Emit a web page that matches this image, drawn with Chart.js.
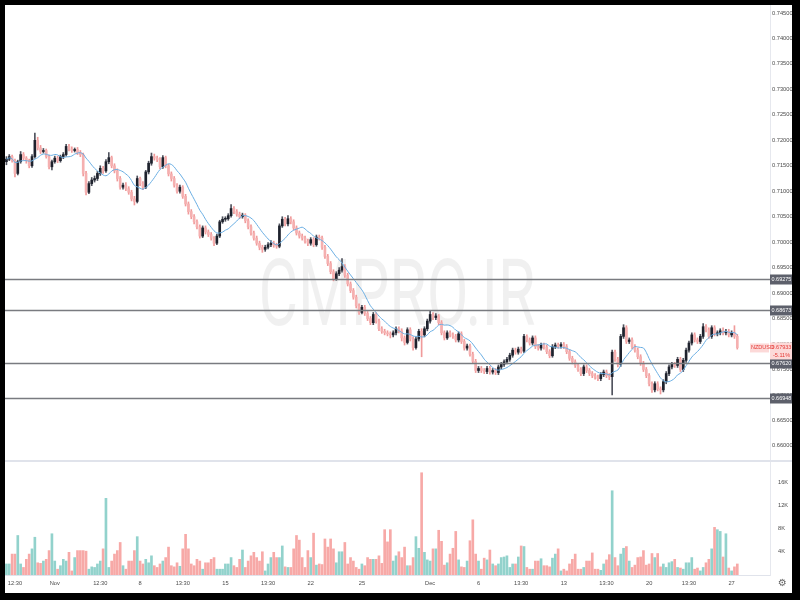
<!DOCTYPE html>
<html lang="en">
<head>
  <meta charset="UTF-8" />
  <title>NZDUSD - 4H</title>
  <script src="https://cdn.jsdelivr.net/npm/chart.js"></script>
  <style>
    body {
      margin: 0;
      background: #000;
      width: 800px;
      height: 600px;
      overflow: hidden;
      font-family: Arial, "Liberation Sans", sans-serif;
    }
    .frame { position: absolute; left: 5px; top: 5px; width: 787px; height: 588px; background: #fff; }
    .pane { position: absolute; left: 5px; }
    .sep { position: absolute; left: 5px; top: 460px; width: 787px; height: 2px; background: #e0e3eb; }
    .gear { position: absolute; left: 778px; top: 577px; font-size: 10px; color: #666; font-family: "DejaVu Sans", sans-serif; }
  </style>
</head>
<body>
  <div class="frame"></div>
  <canvas id="priceChart" class="pane" style="top:5px" width="787" height="455"></canvas>
  <div class="sep"></div>
  <canvas id="volChart" class="pane" style="top:462px" width="787" height="131"></canvas>
  <div class="gear">⚙</div>

  <script>
    // 4H candles, 29 Oct .. 27 Dec
    const opens = [
      0.7158,0.7163,0.7168,0.7160,0.7135,0.7158,0.7172,0.7165,0.7160,0.7150,
      0.7168,0.7200,0.7185,0.7178,0.7180,0.7168,0.7148,0.7158,0.7165,0.7160,
      0.7168,0.7172,0.7188,0.7183,0.7180,0.7182,0.7176,0.7172,0.7135,0.7098,
      0.7115,0.7122,0.7125,0.7135,0.7145,0.7140,0.7158,0.7166,0.7150,0.7140,
      0.7125,0.7108,0.7112,0.7105,0.7098,0.7085,0.7080,0.7125,0.7115,0.7108,
      0.7138,0.7155,0.7168,0.7165,0.7162,0.7148,0.7166,0.7150,0.7134,0.7125,
      0.7112,0.7100,0.7108,0.7090,0.7075,0.7060,0.7050,0.7040,0.7030,0.7012,
      0.7028,0.7020,0.7015,0.7008,0.6998,0.7012,0.7040,0.7045,0.7046,0.7052,
      0.7066,0.7060,0.7055,0.7050,0.7053,0.7042,0.7030,0.7018,0.7008,0.6998,
      0.6990,0.6986,0.6990,0.6995,0.6998,0.6994,0.6992,0.7032,0.7045,0.7036,
      0.7046,0.7040,0.7028,0.7018,0.7012,0.7008,0.7002,0.6998,0.7005,0.6995,
      0.7010,0.7008,0.6990,0.6972,0.6958,0.6942,0.6928,0.6938,0.6945,0.6952,
      0.6935,0.6918,0.6905,0.6892,0.6875,0.6862,0.6872,0.6860,0.6850,0.6842,
      0.6858,0.6845,0.6830,0.6825,0.6822,0.6820,0.6818,0.6822,0.6830,0.6826,
      0.6812,0.6803,0.6828,0.6810,0.6793,0.6810,0.6825,0.6818,0.6830,0.6845,
      0.6858,0.6852,0.6855,0.6842,0.6822,0.6812,0.6822,0.6818,0.6815,0.6808,
      0.6820,0.6805,0.6792,0.6796,0.6780,0.6766,0.6748,0.6752,0.6748,0.6746,
      0.6752,0.6745,0.6748,0.6744,0.6755,0.6760,0.6765,0.6770,0.6778,0.6788,
      0.6784,0.6790,0.6786,0.6815,0.6808,0.6802,0.6812,0.6795,0.6792,0.6798,
      0.6794,0.6785,0.6777,0.6795,0.6798,0.6796,0.6799,0.6795,0.6785,0.6772,
      0.6765,0.6758,0.6750,0.6742,0.6755,0.6748,0.6742,0.6738,0.6735,0.6732,
      0.6740,0.6745,0.6738,0.6736,0.6784,0.6770,0.6760,0.6815,0.6832,0.6805,
      0.6808,0.6795,0.6788,0.6775,0.6762,0.6750,0.6738,0.6722,0.6710,0.6722,
      0.6712,0.6710,0.6726,0.6742,0.6755,0.6760,0.6758,0.6770,0.6750,0.6768,
      0.6788,0.6802,0.6818,0.6808,0.6805,0.6815,0.6834,0.6828,0.6815,0.6832,
      0.6820,0.6822,0.6826,0.6822,0.6825,0.6818,0.6822,0.6815
    ];
    const highs = [
      0.7168,0.7172,0.7171,0.7163,0.7161,0.7178,0.7176,0.7168,0.7163,0.7172,
      0.7214,0.7206,0.7190,0.7184,0.7183,0.7171,0.7161,0.7169,0.7169,0.7171,
      0.7176,0.7192,0.7192,0.7187,0.7185,0.7186,0.7180,0.7175,0.7139,0.7119,
      0.7127,0.7130,0.7139,0.7150,0.7149,0.7162,0.7176,0.7169,0.7154,0.7144,
      0.7129,0.7116,0.7117,0.7109,0.7102,0.7090,0.7130,0.7128,0.7119,0.7141,
      0.7159,0.7175,0.7173,0.7169,0.7166,0.7170,0.7169,0.7153,0.7138,0.7129,
      0.7115,0.7112,0.7111,0.7094,0.7079,0.7064,0.7054,0.7044,0.7034,0.7032,
      0.7032,0.7024,0.7019,0.7011,0.7016,0.7043,0.7050,0.7050,0.7056,0.7074,
      0.7070,0.7064,0.7059,0.7057,0.7056,0.7046,0.7034,0.7022,0.7012,0.7002,
      0.6994,0.6994,0.6999,0.7003,0.7002,0.6998,0.7036,0.7050,0.7049,0.7052,
      0.7050,0.7044,0.7032,0.7022,0.7016,0.7012,0.7006,0.7009,0.7009,0.7014,
      0.7014,0.7012,0.6994,0.6976,0.6962,0.6946,0.6942,0.6950,0.6968,0.6956,
      0.6939,0.6922,0.6909,0.6896,0.6879,0.6876,0.6876,0.6864,0.6854,0.6862,
      0.6862,0.6849,0.6834,0.6829,0.6826,0.6824,0.6826,0.6834,0.6834,0.6830,
      0.6816,0.6832,0.6832,0.6814,0.6814,0.6829,0.6830,0.6834,0.6849,0.6864,
      0.6862,0.6860,0.6858,0.6846,0.6826,0.6826,0.6826,0.6822,0.6819,0.6824,
      0.6824,0.6809,0.6800,0.6800,0.6784,0.6770,0.6756,0.6756,0.6752,0.6756,
      0.6756,0.6752,0.6752,0.6759,0.6764,0.6769,0.6774,0.6782,0.6792,0.6792,
      0.6794,0.6794,0.6819,0.6818,0.6812,0.6816,0.6816,0.6799,0.6802,0.6802,
      0.6798,0.6789,0.6799,0.6802,0.6802,0.6803,0.6803,0.6799,0.6789,0.6776,
      0.6769,0.6762,0.6754,0.6759,0.6759,0.6752,0.6746,0.6742,0.6739,0.6744,
      0.6749,0.6749,0.6742,0.6788,0.6788,0.6774,0.6819,0.6838,0.6836,0.6812,
      0.6812,0.6799,0.6792,0.6779,0.6766,0.6754,0.6742,0.6726,0.6726,0.6726,
      0.6716,0.6730,0.6746,0.6759,0.6764,0.6764,0.6774,0.6774,0.6772,0.6792,
      0.6806,0.6822,0.6822,0.6812,0.6819,0.6840,0.6838,0.6832,0.6836,0.6836,
      0.6826,0.6830,0.6832,0.6829,0.6829,0.6826,0.6836,0.6819
    ];
    const lows = [
      0.7152,0.7160,0.7157,0.7128,0.7132,0.7155,0.7161,0.7155,0.7146,0.7147,
      0.7165,0.7181,0.7174,0.7175,0.7165,0.7144,0.7142,0.7155,0.7156,0.7157,
      0.7164,0.7169,0.7179,0.7176,0.7177,0.7172,0.7168,0.7130,0.7093,0.7095,
      0.7111,0.7118,0.7121,0.7131,0.7135,0.7137,0.7154,0.7146,0.7136,0.7120,
      0.7104,0.7104,0.7101,0.7094,0.7081,0.7073,0.7077,0.7111,0.7103,0.7105,
      0.7134,0.7151,0.7161,0.7158,0.7144,0.7145,0.7146,0.7130,0.7120,0.7108,
      0.7096,0.7096,0.7086,0.7071,0.7055,0.7046,0.7036,0.7026,0.7008,0.7009,
      0.7016,0.7011,0.7004,0.6993,0.6995,0.7009,0.7037,0.7041,0.7043,0.7049,
      0.7056,0.7051,0.7046,0.7047,0.7038,0.7026,0.7014,0.7004,0.6994,0.6985,
      0.6980,0.6982,0.6987,0.6991,0.6990,0.6988,0.6989,0.7029,0.7032,0.7032,
      0.7036,0.7024,0.7014,0.7008,0.7004,0.6998,0.6993,0.6994,0.6991,0.6992,
      0.7004,0.6986,0.6968,0.6954,0.6938,0.6924,0.6925,0.6934,0.6941,0.6931,
      0.6914,0.6901,0.6888,0.6871,0.6858,0.6859,0.6856,0.6846,0.6838,0.6838,
      0.6841,0.6826,0.6821,0.6818,0.6816,0.6812,0.6814,0.6818,0.6822,0.6806,
      0.6798,0.6800,0.6806,0.6788,0.6790,0.6806,0.6775,0.6814,0.6826,0.6841,
      0.6848,0.6848,0.6838,0.6818,0.6808,0.6809,0.6814,0.6811,0.6804,0.6804,
      0.6801,0.6788,0.6788,0.6776,0.6762,0.6744,0.6744,0.6744,0.6742,0.6742,
      0.6741,0.6741,0.6740,0.6740,0.6751,0.6756,0.6761,0.6766,0.6774,0.6780,
      0.6780,0.6782,0.6783,0.6804,0.6798,0.6798,0.6791,0.6788,0.6788,0.6790,
      0.6781,0.6773,0.6774,0.6791,0.6792,0.6792,0.6791,0.6781,0.6768,0.6761,
      0.6754,0.6746,0.6738,0.6738,0.6744,0.6738,0.6734,0.6731,0.6728,0.6728,
      0.6736,0.6734,0.6730,0.6700,0.6766,0.6755,0.6756,0.6811,0.6801,0.6801,
      0.6791,0.6784,0.6771,0.6758,0.6746,0.6734,0.6718,0.6705,0.6706,0.6708,
      0.6702,0.6706,0.6722,0.6738,0.6751,0.6754,0.6754,0.6746,0.6746,0.6764,
      0.6784,0.6798,0.6804,0.6801,0.6801,0.6811,0.6824,0.6811,0.6811,0.6816,
      0.6816,0.6818,0.6818,0.6818,0.6814,0.6814,0.6811,0.6790
    ];
    const closes = [
      0.7163,0.7168,0.7160,0.7135,0.7158,0.7172,0.7165,0.7160,0.7150,0.7168,
      0.7200,0.7185,0.7178,0.7180,0.7168,0.7148,0.7158,0.7165,0.7160,0.7168,
      0.7172,0.7188,0.7183,0.7180,0.7182,0.7176,0.7172,0.7135,0.7098,0.7115,
      0.7122,0.7125,0.7135,0.7145,0.7140,0.7158,0.7166,0.7150,0.7140,0.7125,
      0.7108,0.7112,0.7105,0.7098,0.7085,0.7080,0.7125,0.7115,0.7108,0.7138,
      0.7155,0.7168,0.7165,0.7162,0.7148,0.7166,0.7150,0.7134,0.7125,0.7112,
      0.7100,0.7108,0.7090,0.7075,0.7060,0.7050,0.7040,0.7030,0.7012,0.7028,
      0.7020,0.7015,0.7008,0.6998,0.7012,0.7040,0.7045,0.7046,0.7052,0.7066,
      0.7060,0.7055,0.7050,0.7053,0.7042,0.7030,0.7018,0.7008,0.6998,0.6990,
      0.6986,0.6990,0.6995,0.6998,0.6994,0.6992,0.7032,0.7045,0.7036,0.7046,
      0.7040,0.7028,0.7018,0.7012,0.7008,0.7002,0.6998,0.7005,0.6995,0.7010,
      0.7008,0.6990,0.6972,0.6958,0.6942,0.6928,0.6938,0.6945,0.6952,0.6935,
      0.6918,0.6905,0.6892,0.6875,0.6862,0.6872,0.6860,0.6850,0.6842,0.6858,
      0.6845,0.6830,0.6825,0.6822,0.6820,0.6818,0.6822,0.6830,0.6826,0.6812,
      0.6803,0.6828,0.6810,0.6793,0.6810,0.6825,0.6818,0.6830,0.6845,0.6858,
      0.6852,0.6855,0.6842,0.6822,0.6812,0.6822,0.6818,0.6815,0.6808,0.6820,
      0.6805,0.6792,0.6796,0.6780,0.6766,0.6748,0.6752,0.6748,0.6746,0.6752,
      0.6745,0.6748,0.6744,0.6755,0.6760,0.6765,0.6770,0.6778,0.6788,0.6784,
      0.6790,0.6786,0.6815,0.6808,0.6802,0.6812,0.6795,0.6792,0.6798,0.6794,
      0.6785,0.6777,0.6795,0.6798,0.6796,0.6799,0.6795,0.6785,0.6772,0.6765,
      0.6758,0.6750,0.6742,0.6755,0.6748,0.6742,0.6738,0.6735,0.6732,0.6740,
      0.6745,0.6738,0.6736,0.6784,0.6770,0.6760,0.6815,0.6832,0.6805,0.6808,
      0.6795,0.6788,0.6775,0.6762,0.6750,0.6738,0.6722,0.6710,0.6722,0.6712,
      0.6710,0.6726,0.6742,0.6755,0.6760,0.6758,0.6770,0.6750,0.6768,0.6788,
      0.6802,0.6818,0.6808,0.6805,0.6815,0.6834,0.6828,0.6815,0.6832,0.6820,
      0.6822,0.6826,0.6822,0.6825,0.6818,0.6822,0.6815,0.6793
    ];
    // volume, thousands
    const volumeK = [
      1.9,1.9,3.6,3.6,6.8,1.9,1.3,2.7,3.6,4.5,
      6.5,2.1,2.0,2.4,2.7,4.2,7.1,2.4,1.0,1.6,
      2.7,2.4,3.9,0.7,3.0,4.2,4.2,4.2,4.1,1.0,
      1.4,1.3,1.9,2.4,4.5,13.2,1.3,2.4,3.6,4.2,
      5.6,1.6,1.0,2.4,2.4,4.2,6.6,2.4,1.9,2.7,
      2.1,3.3,1.6,1.3,1.9,2.4,3.0,4.8,1.6,1.4,
      2.1,1.5,4.5,7.0,4.5,1.9,1.6,2.7,2.4,1.0,
      2.1,2.1,2.7,3.0,1.0,1.0,1.0,1.9,1.9,3.0,
      1.6,1.3,2.7,4.3,1.3,2.4,3.3,3.9,3.0,2.4,
      4.0,0.7,1.9,3.0,3.9,3.0,3.0,5.0,1.4,1.3,
      1.3,4.5,6.8,6.0,3.0,1.3,4.2,3.0,7.2,1.7,
      1.9,1.8,6.2,4.8,6.2,4.5,2.1,4.0,4.0,5.6,
      1.9,3.0,2.4,1.3,1.0,1.9,1.6,3.0,2.7,2.7,
      2.7,3.3,2.0,7.8,5.7,7.8,2.4,3.3,4.0,3.0,
      4.8,1.6,1.6,3.0,6.6,4.6,17.6,3.9,2.6,2.4,
      4.5,4.5,7.7,5.8,1.7,2.1,3.6,4.6,7.5,2.6,
      1.4,1.3,2.4,5.9,9.5,3.6,2.4,1.0,2.9,2.6,
      4.3,1.9,1.6,1.9,3.0,3.1,3.3,1.3,1.9,1.9,
      3.1,5.0,4.9,1.3,1.0,1.0,2.4,2.4,2.8,1.6,
      1.6,1.4,2.9,3.6,4.5,0.7,1.0,0.7,1.9,2.7,
      3.6,1.0,1.0,1.3,2.4,2.4,3.8,1.0,1.0,0.8,
      1.9,2.6,3.5,14.5,3.0,1.6,3.6,4.6,4.9,2.4,
      1.3,1.7,3.0,3.1,4.2,1.7,1.9,3.7,3.0,3.7,
      1.4,1.9,1.3,2.1,2.3,2.7,1.3,1.2,1.0,2.1,
      2.1,3.0,1.0,1.2,0.7,1.3,2.1,2.7,4.5,8.2,
      7.8,7.5,3.1,7.1,1.2,0.7,1.4,1.9
    ];
    // time axis labels: candle slot -> text
    const tickSlots = [3, 17, 33, 47, 62, 77, 92, 107, 125, 149, 166, 181, 196, 211, 226, 240, 255];
    const tickTexts = ['12:30', 'Nov', '12:30', '8', '13:30', '15', '13:30', '22', '25', 'Dec', '6', '13:30', '13', '13:30', '20', '13:30', '27'];
    const volTicks = [4, 8, 12, 16];
    // horizontal levels drawn on the chart
    const levels = [0.69275, 0.68673, 0.67620, 0.66948];
    const lastPrice = 0.67933;
    const changeText = '-5.11%';
    const symbol = 'NZDUSD';
    const maPeriod = 9;

    const slots = 269; // empty space on the right of the last candle
    const labels = Array.from({ length: slots }, (_, i) => String(i));
    const isUp = closes.map((c, i) => c >= opens[i]);
    const bodyColor = isUp.map(u => u ? '#1e222d' : '#f5b0b0');
    const wickColor = isUp.map(u => u ? '#50535e' : '#f09a9a');
    const volColor = isUp.map(u => u ? '#92d2cc' : '#f7a9a7');

    const ma = closes.map((_, i) => {
      const from = Math.max(0, i - maPeriod + 1);
      const part = closes.slice(from, i + 1);
      return part.reduce((s, v) => s + v, 0) / part.length;
    });

    const AXIS_W = 22;
    const tickFont = { family: 'Arial', size: 5.7 };

    // keep the y axis at a fixed width and stop it padding the plot area
    function fixAxis(scale) {
      scale.width = AXIS_W;
      scale.paddingTop = 0;
      scale.paddingBottom = 0;
    }

    const watermark = {
      id: 'watermark',
      beforeDatasetsDraw(chart) {
        const { ctx, chartArea } = chart;
        ctx.save();
        ctx.fillStyle = 'rgba(0,0,0,0.06)';
        ctx.font = '400 92px Roboto';
        ctx.textAlign = 'center';
        ctx.textBaseline = 'middle';
        ctx.translate(chartArea.left + 392, 297);
        ctx.scale(0.66, 1);
        ctx.fillText('CMPRO.IR', 0, 0);
        ctx.restore();
      }
    };

    const levelLines = {
      id: 'levelLines',
      afterDraw(chart) {
        const { ctx, chartArea, scales } = chart;
        const y = scales.y;
        const right = chartArea.right;
        ctx.save();
        levels.forEach(v => {
          const py = Math.round(y.getPixelForValue(v)) + 0.5;
          ctx.strokeStyle = '#797b80';
          ctx.lineWidth = 1.5;
          ctx.beginPath();
          ctx.moveTo(chartArea.left, py);
          ctx.lineTo(right, py);
          ctx.stroke();
          ctx.fillStyle = '#5d606b';
          ctx.fillRect(right, py - 5, AXIS_W, 10);
          ctx.fillStyle = '#fff';
          ctx.font = '5.5px Arial';
          ctx.textBaseline = 'middle';
          ctx.textAlign = 'left';
          ctx.fillText(v.toFixed(5), right + 1.5, py);
        });
        // last price tag
        const ly = y.getPixelForValue(lastPrice);
        ctx.fillStyle = '#fcd9d8';
        ctx.fillRect(right - 20, ly - 4, 19, 9);
        ctx.fillRect(right, ly - 5, AXIS_W, 17);
        ctx.fillStyle = '#e53935';
        ctx.font = '5.5px Arial';
        ctx.textBaseline = 'middle';
        ctx.textAlign = 'left';
        ctx.fillText(symbol, right - 19, ly + 0.5);
        ctx.fillText(lastPrice.toFixed(5), right + 1.5, ly);
        ctx.fillText(changeText, right + 3, ly + 8);
        ctx.restore();
      }
    };

    new Chart(document.getElementById('priceChart'), {
      type: 'bar',
      data: {
        labels: labels,
        datasets: [
          {
            label: 'wick',
            data: highs.map((h, i) => [lows[i], h]),
            backgroundColor: wickColor,
            barThickness: 1,
            grouped: false,
            order: 3
          },
          {
            label: 'body',
            data: opens.map((o, i) => [o, closes[i]]),
            backgroundColor: bodyColor,
            barThickness: 2,
            minBarLength: 1,
            grouped: false,
            order: 2
          },
          {
            type: 'line',
            label: 'MA',
            data: ma,
            borderColor: '#6aaee3',
            borderWidth: 1,
            pointRadius: 0,
            tension: 0.3,
            order: 1
          }
        ]
      },
      options: {
        responsive: false,
        animation: false,
        events: [],
        layout: { padding: 0, autoPadding: false },
        plugins: { legend: { display: false }, tooltip: { enabled: false } },
        scales: {
          x: { type: 'category', offset: true, display: false, grid: { display: false } },
          y: {
            position: 'right',
            min: 0.65723,
            max: 0.74657,
            grid: { display: false, drawTicks: false },
            border: { display: true, color: '#e6e8ee' },
            afterBuildTicks(scale) {
              const t = [];
              for (let k = 0; k <= 17; k++) t.push({ value: 0.660 + k * 0.005 });
              scale.ticks = t;
            },
            afterFit: fixAxis,
            ticks: {
              color: '#4a4a4a',
              font: tickFont,
              padding: 2,
              callback: v => v.toFixed(5)
            }
          }
        }
      },
      plugins: [watermark, levelLines]
    });

    new Chart(document.getElementById('volChart'), {
      type: 'bar',
      data: {
        labels: labels,
        datasets: [{
          label: 'Volume',
          data: volumeK,
          backgroundColor: volColor,
          barThickness: 2
        }]
      },
      options: {
        responsive: false,
        animation: false,
        events: [],
        layout: { padding: 0, autoPadding: false },
        plugins: { legend: { display: false }, tooltip: { enabled: false } },
        scales: {
          x: {
            type: 'category',
            offset: true,
            grid: { display: false, drawTicks: false },
            border: { display: true, color: '#e0e3eb' },
            afterFit(scale) {
              scale.height = 18;
              scale.paddingLeft = 0;
              scale.paddingRight = 0;
            },
            ticks: {
              autoSkip: false,
              maxRotation: 0,
              minRotation: 0,
              color: '#4a4a4a',
              font: tickFont,
              padding: 5,
              callback: (v, i) => {
                const k = tickSlots.indexOf(i);
                return k >= 0 ? tickTexts[k] : '';
              }
            }
          },
          y: {
            position: 'right',
            min: 0,
            max: 19.45,
            grid: { display: false, drawTicks: false },
            border: { display: true, color: '#e6e8ee' },
            afterBuildTicks(scale) {
              scale.ticks = volTicks.map(v => ({ value: v }));
            },
            afterFit: fixAxis,
            ticks: {
              color: '#4a4a4a',
              font: tickFont,
              padding: 8,
              callback: v => v + 'K'
            }
          }
        }
      }
    });
  </script>
</body>
</html>
